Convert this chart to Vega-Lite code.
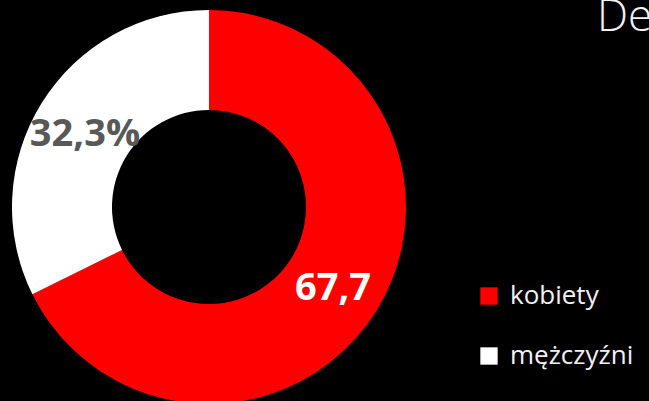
{
  "$schema": "https://vega.github.io/schema/vega-lite/v6.json",
  "width": 418,
  "height": 414,
  "autosize": {"type": "none"},
  "padding": {"left": 0, "top": 0, "right": 231, "bottom": 0},
  "background": "#000000",
  "config": {"view": {"stroke": null}, "font": "Open Sans"},
  "title": {"text": "De", "anchor": "start", "frame": "group", "dx": 597, "dy": 44, "fontSize": 44, "fontWeight": 300, "color": "#f2f2f2", "font": "Open Sans"},
  "data": {"values": [
    {"category": "kobiety", "value": 67.7, "label": "67,7"},
    {"category": "mężczyźni", "value": 32.3, "label": "32,3%"}
  ]},
  "encoding": {"theta": {"field": "value", "type": "quantitative", "stack": true}},
  "layer": [
    {
      "mark": {"type": "arc", "outerRadius": 197, "innerRadius": 97},
      "encoding": {
        "color": {
          "field": "category", "type": "nominal",
          "scale": {"domain": ["kobiety", "mężczyźni"], "range": ["#ff0000", "#ffffff"]},
          "legend": {"orient": "none", "legendX": 476, "legendY": 283, "padding": 0, "title": null, "symbolType": "square", "symbolSize": 300, "symbolStrokeWidth": 0, "labelFontSize": 26, "labelColor": "#f2f2f2", "labelFont": "Open Sans", "rowPadding": 34, "labelOffset": 8}
        }
      }
    },
    {
      "mark": {"type": "text", "radius": 146, "fontSize": 38, "fontWeight": "bold", "dy": 5},
      "encoding": {
        "text": {"field": "label"},
        "color": {
          "field": "category", "type": "nominal",
          "scale": {"domain": ["kobiety", "mężczyźni"], "range": ["#ffffff", "#595959"]},
          "legend": null
        }
      }
    }
  ],
  "resolve": {"scale": {"color": "independent"}}
}
